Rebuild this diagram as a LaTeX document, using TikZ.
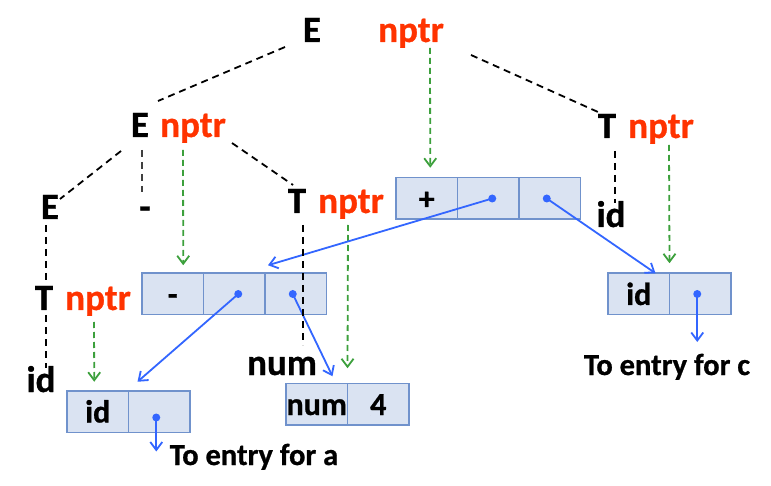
\documentclass[tikz,border=0pt]{standalone}
\usepackage{fontspec}
\setmainfont{Carlito}[BoldFeatures={FakeBold=0.8}]
\usetikzlibrary{arrows.meta,calc}
\definecolor{nptrred}{RGB}{255,51,0}
\definecolor{ggreen}{RGB}{60,160,60}
\definecolor{pblue}{RGB}{51,102,255}
\definecolor{boxfill}{RGB}{218,227,242}
\definecolor{boxline}{RGB}{112,146,204}
\begin{document}
\begin{tikzpicture}[x=1pt,y=-1pt,
 lab/.style={font=\fontsize{37}{40}\selectfont\bfseries, anchor=base, inner sep=0pt},
 ptr/.style={lab, text=nptrred},
 cell/.style={draw=boxline, fill=boxfill, line width=1.5pt, minimum width=61.5pt, minimum height=41.5pt, inner sep=0pt, outer sep=0pt, font=\fontsize{32}{34}\selectfont\bfseries, text height=22pt, text depth=0pt},
 note/.style={font=\fontsize{30.5}{34}\selectfont\bfseries, anchor=base, inner sep=0pt},
 tedge/.style={draw=black, line width=1.8pt, dash pattern=on 7pt off 5pt},
 gedge/.style={draw=ggreen, line width=1.8pt, dash pattern=on 6pt off 4pt, -{Straight Barb[length=8pt,width=12pt]}},
 pedge/.style={draw=pblue, line width=1.8pt, -{Straight Barb[length=8pt,width=12pt]}},
 dot/.style={circle, fill=pblue, inner sep=0pt, minimum size=8pt}
]
\useasboundingbox (0,0) rectangle (771,486);

% tree labels
\node[lab] (Etop) at (312,42) {E};
\node[ptr] (Ptop) at (411,42) {nptr};
\node[lab] (Emid) at (140,137) {E};
\node[ptr] (Pmid) at (193,137) {nptr};
\node[lab] (Eleft) at (50,219) {E};
\node[lab] (minus) at (145,219) {-};
\node[lab] (Tmid) at (297,213) {T};
\node[ptr] (PTmid) at (351,213) {nptr};
\node[lab] (Tright) at (607,138) {T};
\node[ptr] (PTright) at (661,138) {nptr};
\node[lab] (idright) at (611,227) {id};
\node[lab] (Tleft) at (44,310) {T};
\node[ptr] (PTleft) at (98,310) {nptr};
\node[lab] (idleft) at (41,392) {id};
\node[lab] (num) at (282,375) {num};

% record cells
\node[cell] (p1) at (426.75,198.5) {+};
\node[cell,anchor=west] (p2) at (p1.east) {};
\node[cell,anchor=west] (p3) at (p2.east) {};
\node[cell] (m1) at (172.75,294) {-};
\node[cell,anchor=west] (m2) at (m1.east) {};
\node[cell,anchor=west] (m3) at (m2.east) {};
\node[cell] (l1) at (97.75,411.5) {id};
\node[cell,anchor=west] (l2) at (l1.east) {};
\node[cell] (n1) at (316.75,404) {num};
\node[cell,anchor=west] (n2) at (n1.east) {4};
\node[cell] (r1) at (638.75,294) {id};
\node[cell,anchor=west] (r2) at (r1.east) {};

% notes
\node[note] (enta) at (254,465) {To entry for a};
\node[note] (entc) at (667,375) {To entry for c};

% tree edges
\draw[tedge] ($(Etop.base)+(-27,5)$) -- ($(Emid.base)+(18,-36)$);
\draw[tedge] ($(Ptop.base)+(60,13)$) -- ($(Tright.base)+(-9,-26)$);
\draw[tedge] ($(Emid.base)+(-19,14)$) -- ($(Eleft.base)+(10,-20)$);
\draw[tedge, draw=black!75, line width=1.2pt] ($(Emid.base)+(2,13)$) -- ($(minus.base)+(-3,-27)$);
\draw[tedge] ($(Pmid.base)+(39,6)$) -- ($(Tmid.base)+(-4,-28)$);
\draw[tedge] ($(Eleft.base)+(-4,6)$) -- ($(Tleft.base)+(2,-27)$);
\draw[tedge] ($(Tleft.base)+(2,5)$) -- ($(idleft.base)+(5,-24)$);
\draw[tedge] ($(Tright.base)+(8,13)$) -- ($(idright.base)+(4,-24)$);

% green pointer arrows
\draw[gedge] ($(Ptop.base)+(19,6)$) -- ($(p1.north)+(3.5,-10)$);
\draw[gedge] ($(Pmid.base)+(-10,13)$) -- ($(m1.north)+(10.5,-8)$);
\draw[gedge] ($(PTmid.base)+(-3,12)$) -- ($(n2.north west)+(0,-15)$);
\draw[gedge] ($(PTright.base)+(8,7)$) -- ($(r2.north west)+(0,-10)$);
\draw[gedge] ($(PTleft.base)+(-4,12)$) -- ($(l1.north)+(-3.5,-9)$);

% blue pointers
\node[dot] (p2d) at ($(p2.center)+(4,0)$) {};
\node[dot] (p3d) at ($(p3.center)+(-3,0)$) {};
\node[dot] (m2d) at ($(m2.center)+(4,0)$) {};
\node[dot] (m3d) at ($(m3.center)+(-3,0)$) {};
\node[dot] (l2d) at ($(l2.center)+(-3,6)$) {};
\node[dot] (r2d) at ($(r2.center)+(-3,0)$) {};
\coordinate (aend) at ($(l2d)+(0,34)$);
\coordinate (cend) at ($(r2d)+(0,48)$);
\draw[pedge] (p2d.center) -- ($(m3.north west)+(3,-8)$);
\draw[pedge] (p3d.center) -- ($(r1.north east)+(-14,0)$);
\draw[pedge] (m2d.center) -- ($(l1.north east)+(9,-9)$);
\draw[pedge] (m3d.center) -- ($(n1.north east)+(-15,-7)$);
\draw[pedge] (l2d.center) -- (aend);
\draw[pedge] (r2d.center) -- (cend);

% T -> num edge drawn over the record
\draw[tedge] ($(Tmid.base)+(6,12)$) -- ($(num.base)+(21,-30)$);
\end{tikzpicture}
\end{document}
